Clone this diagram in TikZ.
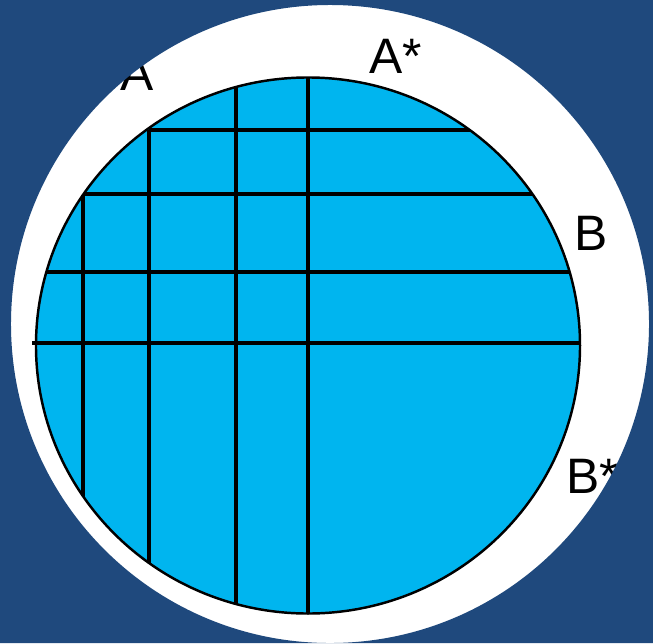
\documentclass[tikz,border=0pt]{standalone}
\usepackage{fontspec}
\setmainfont{Liberation Sans}
\usepackage{xcolor}
\usetikzlibrary{positioning}
\definecolor{slateblue}{HTML}{1F497D}
\definecolor{wafer}{HTML}{00B5EF}
\definecolor{ink}{HTML}{000000}
\tikzset{cut/.style={ink,line width=2.9pt},
  lbl/.style={anchor=base west,inner sep=0pt,text=ink}}
\begin{document}
\begin{tikzpicture}[x=0.03cm,y=-0.03cm,font=\fontsize{42.5}{50}\selectfont]
\useasboundingbox (0,0) rectangle (653,643);
\fill[white] (0,0) rectangle (653,643);
\node[lbl] (lblA) at (120,90) {A};
\node[lbl] (lblAs) at (369,73) {A*};
\node[lbl] (lblB) at (574,250) {B};
\node[lbl] (lblBs) at (566,493) {B*};
\fill[slateblue,even odd rule] (0,0) rectangle (653,643) (330,324) circle [radius=9.57cm];
\fill[wafer] (308,345.5) ellipse [x radius=8.16cm,y radius=8.04cm];
\begin{scope}
\clip (308,345.5) ellipse [x radius=8.16cm,y radius=8.04cm];
\foreach \x/\ys in {83/194,149/130,236/0,308/0} {\draw[cut] (\x,\ys) -- (\x,700);}
\foreach \y/\xs in {130/149,194/83} {\draw[cut] (\xs,\y) -- (700,\y);}
\draw[cut,line width=3.6pt] (0,272) -- (700,272);
\end{scope}
\draw[cut] (32,343) -- (580,343);
\draw[ink,line width=2.1pt] (308,345.5) ellipse [x radius=8.16cm,y radius=8.04cm];
\end{tikzpicture}
\end{document}
